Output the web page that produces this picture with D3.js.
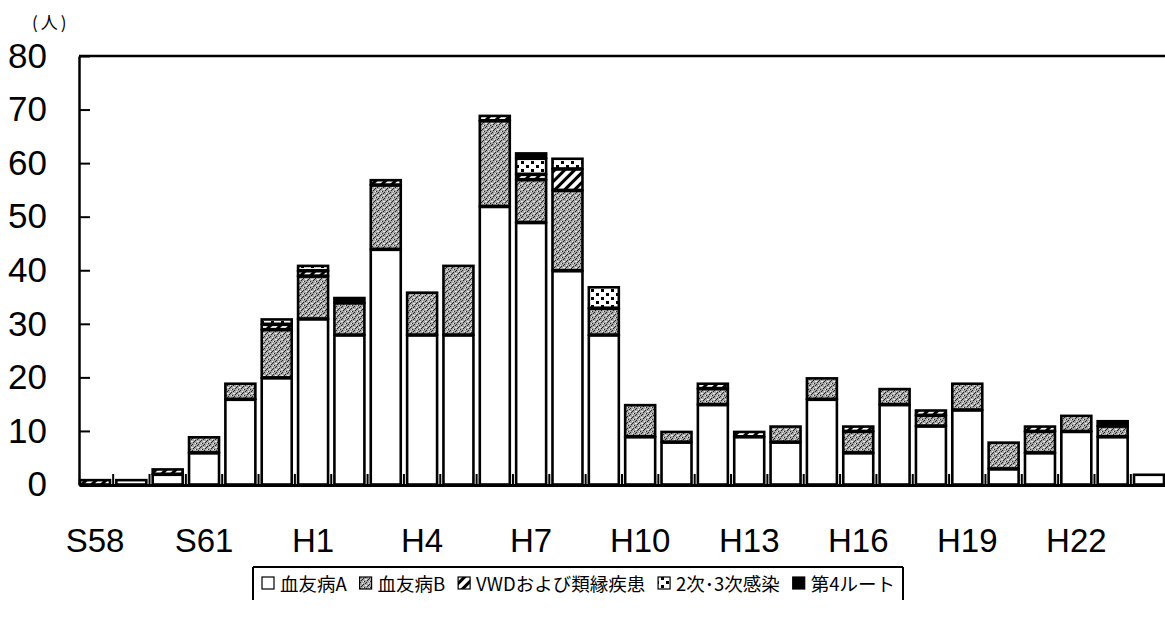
<!DOCTYPE html>
<html>
<head>
<meta charset="utf-8">
<script src="https://cdn.jsdelivr.net/npm/d3@7/dist/d3.min.js"></script>
<style>
  body { margin: 0; background: #fff; }
  svg { display: block; }
</style>
</head>
<body>
<script>
var width = 1165,
    height = 621;

// 年度
var years = ['S58', 'S59', 'S60', 'S61', 'S62', 'S63', 'H1', 'H2', 'H3', 'H4', 'H5', 'H6', 'H7', 'H8', 'H9',
    'H10', 'H11', 'H12', 'H13', 'H14', 'H15', 'H16', 'H17', 'H18', 'H19', 'H20', 'H21', 'H22', 'H23', 'H24'];

// 各ルートの人数
var hemoA     = [0, 1, 2, 6, 16, 20, 31, 28, 44, 28, 28, 52, 49, 40, 28, 9, 8, 15, 9, 8, 16, 6, 15, 11, 14, 3, 6, 10, 9, 2];
var hemoB     = [0, 0, 0, 3, 3, 9, 8, 6, 12, 8, 13, 16, 8, 15, 5, 6, 2, 3, 0, 3, 4, 4, 3, 2, 5, 5, 4, 3, 2, 0];
var vwd       = [1, 0, 1, 0, 0, 1, 1, 0, 1, 0, 0, 1, 1, 4, 0, 0, 0, 1, 1, 0, 0, 1, 0, 1, 0, 0, 1, 0, 0, 0];
var secondary = [0, 0, 0, 0, 0, 1, 1, 0, 0, 0, 0, 0, 3, 2, 4, 0, 0, 0, 0, 0, 0, 0, 0, 0, 0, 0, 0, 0, 0, 0];
var route4    = [0, 0, 0, 0, 0, 0, 0, 1, 0, 0, 0, 0, 1, 0, 0, 0, 0, 0, 0, 0, 0, 0, 0, 0, 0, 0, 0, 0, 1, 0];

var seriesNames = ['血友病A', '血友病B', 'VWDおよび類縁疾患', '2次･3次感染', '第4ルート'];
var yTicks = [0, 10, 20, 30, 40, 50, 60, 70, 80];
var xLabelYears = ['S58', 'S61', 'H1', 'H4', 'H7', 'H10', 'H13', 'H16', 'H19', 'H22'];

var fills = ['#fff', 'url(#patB)', 'url(#patVWD)', 'url(#patSec)', '#000'];

var svg = d3.select('body').append('svg').attr('width', width).attr('height', height);

// パターン
var defs = svg.append('defs');
var pB = defs.append('pattern').attr('id', 'patB').attr('patternUnits', 'userSpaceOnUse')
    .attr('width', 6).attr('height', 6);
pB.append('rect').attr('width', 6).attr('height', 6).attr('fill', '#a6a6a6');
[[0, 0], [3, 2], [1, 4], [4, 5], [5, 1], [2, 3]].forEach(function (p) {
    pB.append('rect').attr('x', p[0]).attr('y', p[1]).attr('width', 1).attr('height', 1).attr('fill', '#222');
});
[[2, 1], [5, 3], [0, 3], [3, 5]].forEach(function (p) {
    pB.append('rect').attr('x', p[0]).attr('y', p[1]).attr('width', 1).attr('height', 1).attr('fill', '#eee');
});

var pV = defs.append('pattern').attr('id', 'patVWD').attr('patternUnits', 'userSpaceOnUse')
    .attr('width', 7).attr('height', 7).attr('patternTransform', 'rotate(45)');
pV.append('rect').attr('width', 7).attr('height', 7).attr('fill', '#fff');
pV.append('rect').attr('width', 3).attr('height', 7).attr('fill', '#000');

var pS = defs.append('pattern').attr('id', 'patSec').attr('patternUnits', 'userSpaceOnUse')
    .attr('width', 10).attr('height', 8);
pS.append('rect').attr('width', 10).attr('height', 8).attr('fill', '#fff');
pS.append('rect').attr('x', 1).attr('y', 1).attr('width', 3).attr('height', 3).attr('fill', '#000');
pS.append('rect').attr('x', 6).attr('y', 5).attr('width', 3).attr('height', 3).attr('fill', '#000');

// スケール
var x = d3.scaleBand().domain(years).range([79, 1165]).paddingInner(0.12).paddingOuter(0);
var y = d3.scaleLinear().domain([0, 80]).range([484.5, 56]);

// 積み上げ
var rows = years.map(function (d, i) {
    return { year: d, a: hemoA[i], b: hemoB[i], v: vwd[i], s: secondary[i], r: route4[i] };
});
var stacked = d3.stack().keys(['a', 'b', 'v', 's', 'r'])(rows);

stacked.forEach(function (layer, k) {
    svg.append('g')
        .selectAll('rect')
        .data(layer.filter(function (d) { return d[1] > d[0]; }))
        .enter()
        .append('rect')
        .attr('x', function (d) { return x(d.data.year) + 1; })
        .attr('y', function (d) { return y(d[1]) + 1; })
        .attr('width', x.bandwidth() - 2)
        .attr('height', function (d) { return y(d[0]) - y(d[1]) - 2 > 0 ? y(d[0]) - y(d[1]) - 1 : 1; })
        .attr('fill', fills[k])
        .attr('stroke', '#000')
        .attr('stroke-width', 2.6);
});

// 上枠
svg.append('line').attr('x1', 79).attr('x2', width).attr('y1', 56).attr('y2', 56)
    .attr('stroke', '#000').attr('stroke-width', 2.5);

// y軸
var yAxis = svg.append('g').attr('transform', 'translate(79,0)')
    .call(d3.axisLeft(y).tickValues(yTicks).tickSizeInner(-11).tickSizeOuter(0).tickPadding(32));
yAxis.select('.domain').attr('stroke-width', 2.5);
yAxis.selectAll('.tick line').attr('stroke-width', 2);
yAxis.selectAll('text').attr('font-family', 'Liberation Sans, Arial, sans-serif').attr('font-size', 35)
    .attr('fill', '#000');

// x軸
var xAxis = svg.append('g').attr('transform', 'translate(0,485)')
    .call(d3.axisBottom(x).tickValues(xLabelYears).tickSize(0).tickPadding(44));
xAxis.select('.domain').attr('stroke-width', 3);
xAxis.selectAll('text').attr('font-family', 'Liberation Sans, Arial, sans-serif').attr('font-size', 33)
    .attr('fill', '#000');

// 区切り目盛り
var step = x.step();
svg.append('g').selectAll('line')
    .data(years.slice(1))
    .enter()
    .append('line')
    .attr('x1', function (d) { return x(d) - (step - x.bandwidth()) / 2; })
    .attr('x2', function (d) { return x(d) - (step - x.bandwidth()) / 2; })
    .attr('y1', 485).attr('y2', 474)
    .attr('stroke', '#000').attr('stroke-width', 2);

// 単位
svg.append('text').attr('x', 32).attr('y', 29).text('(人)')
    .attr('font-family', 'Noto Sans CJK JP, sans-serif').attr('font-size', 17).attr('letter-spacing', 3);

// 凡例
var legend = svg.append('g');
var legX = 253, legR = 903, legTop = 567, legBottom = 600;
legend.append('line').attr('x1', legX).attr('x2', legR).attr('y1', legTop).attr('y2', legTop)
    .attr('stroke', '#000').attr('stroke-width', 2);
legend.append('line').attr('x1', legX).attr('x2', legX).attr('y1', legTop).attr('y2', legBottom)
    .attr('stroke', '#000').attr('stroke-width', 2);
legend.append('line').attr('x1', legR).attr('x2', legR).attr('y1', legTop).attr('y2', legBottom)
    .attr('stroke', '#000').attr('stroke-width', 2);

var items = seriesNames.map(function (name, k) {
    var sw = legend.append('rect').attr('y', 577).attr('width', 12).attr('height', 12)
        .attr('fill', fills[k]).attr('stroke', '#000').attr('stroke-width', 1.2);
    var t = legend.append('text').attr('y', 591).text(name)
        .attr('font-family', 'Noto Sans CJK JP').attr('font-size', 18.5);
    return { sw: sw, t: t, w: 18 + t.node().getComputedTextLength() };
});
var total = d3.sum(items, function (d) { return d.w; });
var gap = (legR - 8 - (legX + 9) - total) / (items.length - 1);
var cx = legX + 9;
items.forEach(function (d) {
    d.sw.attr('x', cx);
    d.t.attr('x', cx + 18);
    cx = cx + d.w + gap;
});
</script>
</body>
</html>
